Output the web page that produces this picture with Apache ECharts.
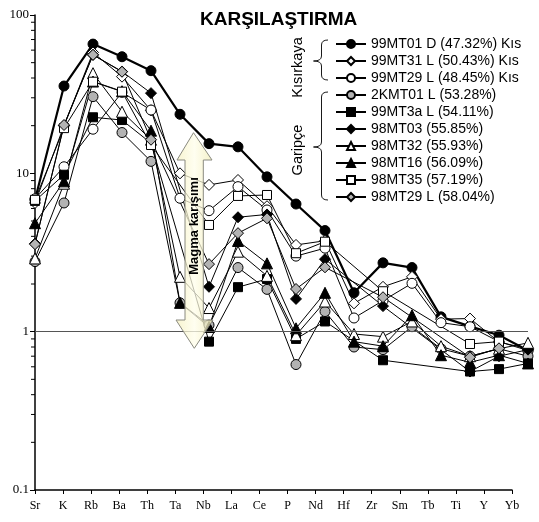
<!DOCTYPE html>
<html>
<head>
<meta charset="utf-8">
<script src="https://cdn.jsdelivr.net/npm/echarts@6/dist/echarts.min.js"></script>
<style>
  html, body { margin: 0; padding: 0; background: #ffffff; }
  #chart { width: 539px; height: 522px; }
</style>
</head>
<body>
<div id="chart"></div>
<script>
// Trace elements along the spider diagram (normalised values, log scale)
const elements = ['Sr', 'K', 'Rb', 'Ba', 'Th', 'Ta', 'Nb', 'La', 'Ce', 'P', 'Nd', 'Hf', 'Zr', 'Sm', 'Tb', 'Ti', 'Y', 'Yb'];
const yRange = [0.1, 100];
const minorTickValues = [0.2, 0.3, 0.4, 0.5, 0.6, 0.7, 0.8, 0.9, 2, 3, 4, 5, 6, 7, 8, 9, 20, 30, 40, 50, 60, 70, 80, 90];

const sampleNames = [
  '99MT01 D (47.32%) Kıs',
  '99MT31 L (50.43%) Kıs',
  '99MT29 L (48.45%) Kıs',
  '2KMT01 L (53.28%)',
  '99MT3a L (54.11%)',
  '98MT03 (55.85%)',
  '98MT32 (55.93%)',
  '98MT16 (56.09%)',
  '98MT35 (57.19%)',
  '98MT29 L (58.04%)'
];

// Kısırkaya samples
const v99MT01D = [6.8, 35.6, 65.5, 54.5, 44.5, 23.6, 15.4, 14.7, 9.5, 6.4, 4.35, 1.76, 2.72, 2.54, 1.24, 1.08, 0.95, 0.76];
const v99MT31L = [6.5, 20, 58, 40.8, 25, 10.0, 8.45, 9.08, 6.2, 3.53, 3.75, 1.51, 1.92, 2.22, 1.2, 1.21, 0.86, 0.78];
const v99MT29L = [6.9, 11, 19, 32.5, 25.1, 6.96, 5.81, 8.24, 5.87, 3.0, 3.37, 1.22, 1.57, 2.02, 1.14, 1.075, 0.865, 0.76];
// Garipçe samples (null = element not analysed)
const v2KMT01L = [2.77, 6.5, 30.5, 18.1, 11.9, 1.52, 1.1, 2.54, 1.85, 0.62, 1.34, 0.80, 0.77, 1.075, 0.78, 0.70, 0.78, 0.70];
const v99MT3aL = [6.7, 9.8, 22.6, 21.7, 15.5, null, 0.865, 1.91, 2.15, 0.9, 1.16, null, 0.66, null, null, 0.56, 0.58, 0.63];
const v98MT03 = [3.6, 20, 56, 44, 32.1, null, 1.92, 5.28, 5.5, 1.61, 2.87, null, 1.45, null, null, 0.56, 0.70, 0.77];
const v98MT32 = [2.9, 8.6, 42.9, 24.5, 16.3, 2.22, 1.41, 3.2, 2.25, 0.95, 1.55, 0.967, 0.93, 1.16, 0.81, 0.70, 0.78, 0.85];
const v98MT16 = [4.84, 8.9, 38, 33, 18.6, 1.52, 1.07, 3.74, 2.7, 1.05, 1.76, 0.865, 0.81, 1.27, 0.71, 0.64, 0.71, 0.63];
const v98MT35 = [6.8, 19.3, 37.9, 32.8, 15.1, null, 4.72, 7.2, 7.3, 3.13, 3.7, null, 1.8, null, null, 0.836, 0.865, null];
const v98MT29L = [3.57, 20.2, 56, 43.8, 16.3, null, 2.67, 4.19, 5.2, 1.86, 2.55, null, 1.65, null, null, 0.689, 0.785, null];

const GRAY = '#b3b3b3';
const styles = [
  { values: v99MT01D, symbol: 'circle',   fill: '#000', size: 10, width: 2.2 },
  { values: v99MT31L, symbol: 'diamond',  fill: '#fff', size: 11, width: 1 },
  { values: v99MT29L, symbol: 'circle',   fill: '#fff', size: 10, width: 1 },
  { values: v2KMT01L, symbol: 'circle',   fill: GRAY,   size: 10, width: 1 },
  { values: v99MT3aL, symbol: 'rect',     fill: '#000', size: 9,  width: 1 },
  { values: v98MT03,  symbol: 'diamond',  fill: '#000', size: 11, width: 1 },
  { values: v98MT32,  symbol: 'triangle', fill: '#fff', size: 11, width: 1 },
  { values: v98MT16,  symbol: 'triangle', fill: '#000', size: 11, width: 1 },
  { values: v98MT35,  symbol: 'rect',     fill: '#fff', size: 9,  width: 1 },
  { values: v98MT29L, symbol: 'diamond',  fill: GRAY,   size: 11, width: 1 }
];

const SANS = 'Liberation Sans';
const SERIF = 'Liberation Serif';

const series = styles.map((s, i) => ({
  name: sampleNames[i],
  type: 'line',
  xAxisIndex: 0,
  yAxisIndex: 0,
  data: s.values,
  connectNulls: true,
  symbol: s.symbol,
  symbolSize: s.size,
  showAllSymbol: true,
  itemStyle: { color: s.fill, borderColor: '#000', borderWidth: 1 },
  lineStyle: { color: '#000', width: s.width },
  emphasis: { disabled: true },
  animation: false,
  markLine: i === 0 ? {
    silent: true,
    symbol: ['none', 'none'],
    label: { show: false },
    lineStyle: { color: '#555', width: 1, type: 'solid' },
    data: [{ yAxis: 1 }]
  } : undefined
}));

// minor log ticks on the value axis
series.push({
  type: 'custom',
  xAxisIndex: 1,
  yAxisIndex: 1,
  silent: true,
  animation: false,
  data: minorTickValues.map(v => [0, v]),
  encode: { x: 0, y: 1 },
  renderItem: (params, api) => {
    const p = api.coord([api.value(0), api.value(1)]);
    return {
      type: 'line',
      shape: { x1: p[0] - 4, y1: p[1], x2: p[0], y2: p[1] },
      style: { stroke: '#000', lineWidth: 1 }
    };
  }
});

// curly brace opening to the right: tips at x0, point at xp
function brace(x0, xs, xp, yTop, yMid, yBot) {
  const st = { fill: 'none', stroke: '#000', lineWidth: 0.9 };
  const r = 5;
  return [
    { type: 'bezierCurve', silent: true, shape: { x1: x0, y1: yTop, cpx1: xs, cpy1: yTop, x2: xs, y2: yTop + r }, style: st },
    { type: 'line', silent: true, shape: { x1: xs, y1: yTop + r, x2: xs, y2: yMid - r }, style: st },
    { type: 'bezierCurve', silent: true, shape: { x1: xs, y1: yMid - r, cpx1: xs, cpy1: yMid, x2: xp, y2: yMid }, style: st },
    { type: 'bezierCurve', silent: true, shape: { x1: xp, y1: yMid, cpx1: xs, cpy1: yMid, x2: xs, y2: yMid + r }, style: st },
    { type: 'line', silent: true, shape: { x1: xs, y1: yMid + r, x2: xs, y2: yBot - r }, style: st },
    { type: 'bezierCurve', silent: true, shape: { x1: xs, y1: yBot - r, cpx1: xs, cpy1: yBot, x2: x0, y2: yBot }, style: st }
  ];
}

const chart = echarts.init(document.getElementById('chart'), null, { renderer: 'canvas' });

chart.setOption({
  backgroundColor: '#fff',
  animation: false,
  title: {
    text: 'KARŞILAŞTIRMA',
    left: 200,
    top: 10,
    padding: 0,
    textStyle: { fontFamily: SANS, fontWeight: 'bold', fontSize: 19, color: '#000' }
  },
  legend: {
    orient: 'vertical',
    left: 335,
    top: 37,
    padding: 0,
    itemWidth: 30,
    itemHeight: 10,
    itemGap: 3,
    selectedMode: false,
    data: sampleNames,
    textStyle: { fontFamily: SANS, fontSize: 14, color: '#000' }
  },
  grid: [
    { left: 35, right: 11, top: 15, bottom: 32 },
    { left: 35, right: 27, top: 15, bottom: 32 }
  ],
  xAxis: [
    { gridIndex: 0, type: 'category', data: elements, boundaryGap: false, show: false },
    {
      gridIndex: 1, type: 'category', data: elements, boundaryGap: false,
      axisLine: { lineStyle: { color: '#000', width: 1.5 } },
      axisTick: { show: true, length: 4, lineStyle: { color: '#000', width: 1 } },
      axisLabel: { interval: 0, margin: 10, fontFamily: SERIF, fontSize: 12, color: '#000' },
      splitLine: { show: false }
    }
  ],
  yAxis: [
    { gridIndex: 0, type: 'log', logBase: 10, min: yRange[0], max: yRange[1], show: false },
    {
      gridIndex: 1, type: 'log', logBase: 10, min: yRange[0], max: yRange[1],
      axisLine: { show: true, lineStyle: { color: '#000', width: 1.5 } },
      axisTick: { show: true, length: 5, lineStyle: { color: '#000', width: 1 } },
      axisLabel: { margin: 6, fontFamily: SERIF, fontSize: 13, color: '#000' },
      splitLine: { show: false }
    }
  ],
  series: series,
  graphic: [
    // double-headed "magma mixing" arrow
    {
      type: 'polygon',
      z: 50,
      silent: true,
      shape: {
        points: [
          [193.5, 132.7], [212, 160], [203.3, 160], [203.3, 320], [213, 320],
          [194.3, 348.3], [176, 320], [185, 320], [185, 160], [177, 160]
        ]
      },
      style: {
        fill: new echarts.graphic.LinearGradient(0, 0, 1, 0, [
          { offset: 0, color: 'rgba(245,240,190,0.75)' },
          { offset: 0.5, color: 'rgba(255,254,235,0.75)' },
          { offset: 1, color: 'rgba(240,235,180,0.75)' }
        ]),
        stroke: '#8a8a80',
        lineWidth: 1
      }
    },
    {
      type: 'text',
      z: 51,
      silent: true,
      x: 194,
      y: 226,
      rotation: Math.PI / 2,
      style: {
        text: 'Magma karışımı',
        fontFamily: SANS,
        fontWeight: 'bold',
        fontSize: 13,
        fill: '#000',
        align: 'center',
        verticalAlign: 'middle'
      }
    },
    // group labels with braces
    {
      type: 'text',
      silent: true,
      x: 298,
      y: 67.5,
      rotation: Math.PI / 2,
      style: { text: 'Kısırkaya', fontFamily: SANS, fontSize: 14.5, fill: '#000', align: 'center', verticalAlign: 'middle' }
    },
    {
      type: 'text',
      silent: true,
      x: 298,
      y: 150,
      rotation: Math.PI / 2,
      style: { text: 'Garipçe', fontFamily: SANS, fontSize: 14.5, fill: '#000', align: 'center', verticalAlign: 'middle' }
    }
  ].concat(brace(328, 321.5, 313.5, 40, 61, 80), brace(328, 321.5, 313.5, 92, 147, 200))
});
</script>
</body>
</html>
